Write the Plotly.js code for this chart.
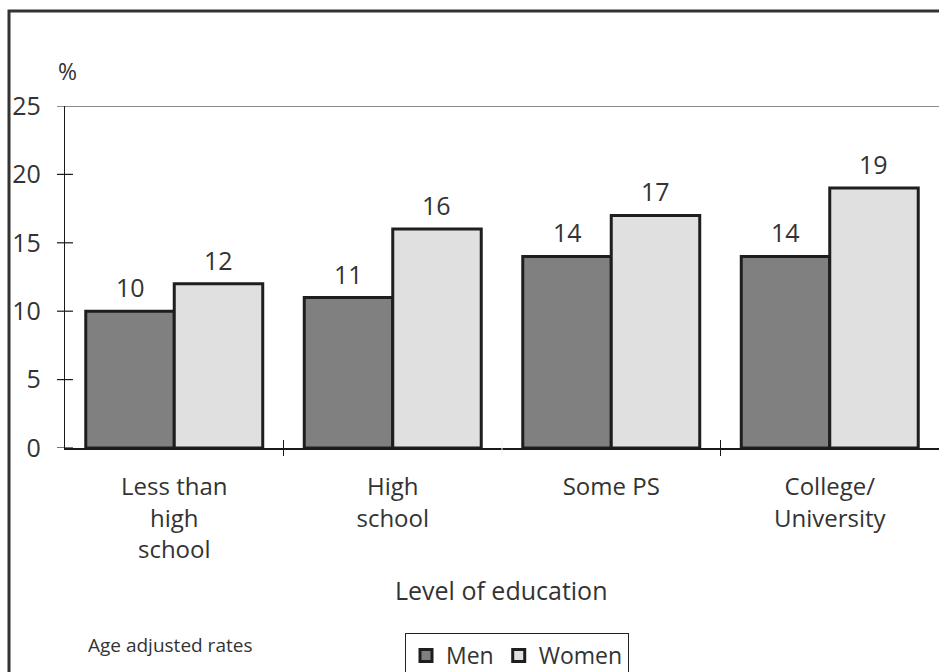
<!DOCTYPE html>
<html>
<head>
<meta charset="utf-8">
<script src="https://cdn.plot.ly/plotly-3.0.1.min.js"></script>
<style>html,body{margin:0;padding:0;background:#fff;}#chart{width:939px;height:672px;}</style>
</head>
<body>
<div id="chart"></div>
<script>
const categories = ["Less than<br>high<br>school", "High<br>school", "Some PS", "College/<br>University"];
const men = [10, 11, 14, 14];
const women = [12, 16, 17, 19];
const yTicks = [0, 5, 10, 15, 20, 25];
const seriesNames = ["Men", "Women"];

const FONT = "'Open Sans', sans-serif";
const TXT = "#333";
const plotW = 874, plotH = 342;

const traces = [
  {type: "bar", name: seriesNames[0], x: categories, y: men,
   marker: {color: "#808080", line: {color: "#1e1e1e", width: 3}}, hoverinfo: "skip"},
  {type: "bar", name: seriesNames[1], x: categories, y: women,
   marker: {color: "#e0e0e0", line: {color: "#1e1e1e", width: 3}}, hoverinfo: "skip"}
];

const shapes = [];
// outer frame
shapes.push({type: "rect", xref: "paper", yref: "paper",
  x0: (9 - 65) / plotW, x1: 1.05, y0: -0.8, y1: (448 - 11) / plotH,
  line: {color: "#333", width: 3}, fillcolor: "rgba(0,0,0,0)", layer: "below"});
// crossing y ticks
yTicks.forEach(v => {
  shapes.push({type: "line", xref: "paper", yref: "y",
    x0: -8 / plotW, x1: (v === yTicks[yTicks.length - 1]) ? 1 : 8 / plotW, y0: v, y1: v,
    line: {color: "#1a1a1a", width: 1.2}});
});
// category separator ticks
for (let i = 1; i < categories.length; i++) {
  shapes.push({type: "line", xref: "x", yref: "paper",
    x0: i - 0.5, x1: i - 0.5, y0: -8 / plotH, y1: 8 / plotH,
    line: {color: i === 2 ? "#f2f2f2" : "#1a1a1a", width: 1}});
}

const annotations = [];
men.forEach((v, i) => annotations.push({x: categories[i], y: v, xref: "x", yref: "y",
  text: String(v), showarrow: false, xshift: -44, yshift: 24, yanchor: "middle",
  font: {family: FONT, size: 25, color: TXT}}));
women.forEach((v, i) => annotations.push({x: categories[i], y: v, xref: "x", yref: "y",
  text: String(v), showarrow: false, xshift: 44, yshift: 24, yanchor: "middle",
  font: {family: FONT, size: 25, color: TXT}}));
annotations.push({xref: "paper", yref: "paper", x: (56 - 65) / plotW, y: (448 - 71) / plotH,
  xanchor: "left", yanchor: "middle", text: "%", showarrow: false,
  font: {family: FONT, size: 23, color: TXT}});
annotations.push({xref: "paper", yref: "paper", x: (501 - 65) / plotW, y: (448 - 590) / plotH,
  xanchor: "center", yanchor: "middle", text: "Level of education", showarrow: false,
  font: {family: FONT, size: 25, color: TXT}});
annotations.push({xref: "paper", yref: "paper", x: (86 - 65) / plotW, y: (448 - 645) / plotH,
  xanchor: "left", yanchor: "middle", text: "Age adjusted rates", showarrow: false,
  font: {family: FONT, size: 19, color: TXT}});

const layout = {
  width: 939, height: 672,
  margin: {l: 65, r: 0, t: 106, b: 224, autoexpand: false},
  paper_bgcolor: "#fff", plot_bgcolor: "#fff",
  font: {family: FONT, color: TXT},
  barmode: "group", bargap: 0.19, bargroupgap: 0,
  showlegend: true,
  legend: {orientation: "h", x: (405 - 65) / plotW, y: (448 - 633) / plotH,
    xanchor: "left", yanchor: "top", bordercolor: "#222", borderwidth: 1,
    font: {family: FONT, size: 23, color: TXT}, bgcolor: "#fff",
    itemwidth: 30, tracegroupgap: 0},
  xaxis: {type: "category", range: [-0.5, 3.5], showgrid: false, zeroline: false,
    showline: true, linecolor: "#1a1a1a", linewidth: 1.5, ticks: "", automargin: false,
    tickfont: {family: FONT, size: 24, color: TXT}, ticklabelstandoff: 17, fixedrange: true},
  yaxis: {range: [0, 25], tickvals: yTicks, ticktext: yTicks.map(String), showgrid: false,
    zeroline: false, showline: true, linecolor: "#1a1a1a", linewidth: 1.2, ticks: "", automargin: false,
    tickfont: {family: FONT, size: 25, color: TXT}, ticklabelstandoff: 18, fixedrange: true},
  shapes: shapes,
  annotations: annotations
};

Plotly.newPlot("chart", traces, layout, {displayModeBar: false, staticPlot: true});
</script>
</body>
</html>
